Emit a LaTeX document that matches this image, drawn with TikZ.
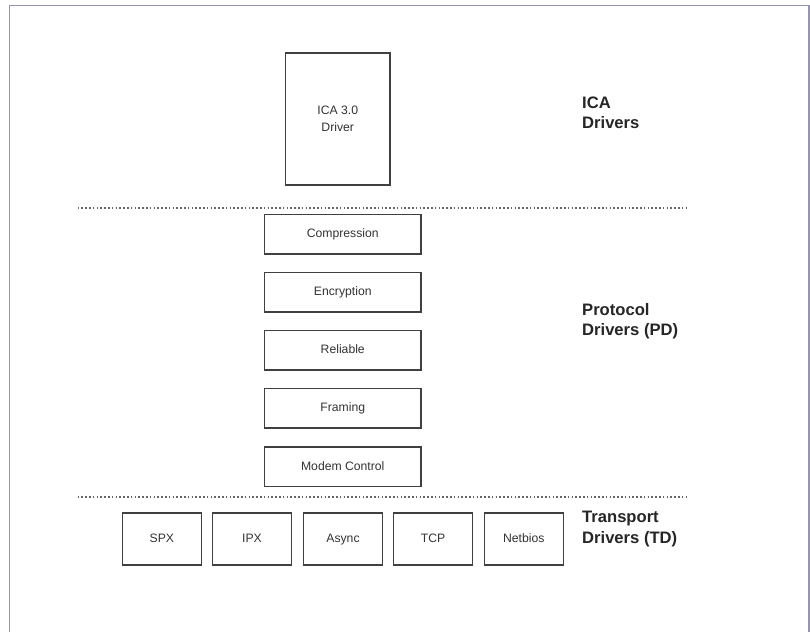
\documentclass[tikz,border=0pt]{standalone}
\usepackage{fontspec}
\setmainfont{Liberation Sans}
\begin{document}
\begin{tikzpicture}[x=1pt,y=-1pt,
  drv/.style={draw=black!75, line width=1.4pt, fill=white, inner sep=0pt, text=black!80, font=\fontsize{12.2}{17}\selectfont, align=center},
  onetext/.style={text height=1.7ex, text depth=0.45ex},
  pdbox/.style={drv, onetext, minimum width=156.5pt, minimum height=39.5pt},
  tdbox/.style={drv, onetext, minimum width=79pt, minimum height=52pt},
  lbl/.style={anchor=west, align=left, inner sep=0pt, text=black!85, font=\fontsize{16.6}{20.5}\selectfont\bfseries},
  sep/.style={draw=black!60, line width=1.7pt, dash pattern=on 1.6pt off 2.2pt}]
\useasboundingbox (0,0) rectangle (810,632);
\fill[white] (0,0) rectangle (810,632);
\draw[color={rgb,255:red,150;green,148;blue,180}, line width=1.6pt] (9.5,632) -- (9.5,5.5) -- (809,5.5) -- (809,632);
% ICA driver
\node[drv, minimum width=104.5pt, minimum height=132pt] (ica) at (337.75,119) {ICA 3.0\\Driver};
% separators
\coordinate (s1a) at (77.5,207.7); \coordinate (s1b) at (686,207.7);
\coordinate (s2a) at (77.5,497); \coordinate (s2b) at (686,497);
\draw[sep] (s1a) -- (s1b);
\draw[sep] (s2a) -- (s2b);
% protocol drivers
\node[pdbox] (comp) at (342.75,234.3) {Compression};
\node[pdbox] (encr) at (342.75,292.2) {Encryption};
\node[pdbox] (rel) at (342.75,350.3) {Reliable};
\node[pdbox] (fram) at (342.75,408.2) {Framing};
\node[pdbox] (modem) at (342.75,466.7) {Modem Control};
% transport drivers
\node[tdbox] (spx) at (161.9,539) {SPX};
\node[tdbox] (ipx) at (252,539) {IPX};
\node[tdbox] (async) at (343,539) {Async};
\node[tdbox] (tcp) at (433.1,539) {TCP};
\node[tdbox] (netbios) at (523.75,539) {Netbios};
% labels
\node[lbl] (lica) at (582,113) {ICA\\Drivers};
\node[lbl] (lpd) at (582,321) {Protocol\\Drivers (PD)};
\node[lbl] (ltd) at (582,529) {Transport\\Drivers (TD)};
\end{tikzpicture}
\end{document}
